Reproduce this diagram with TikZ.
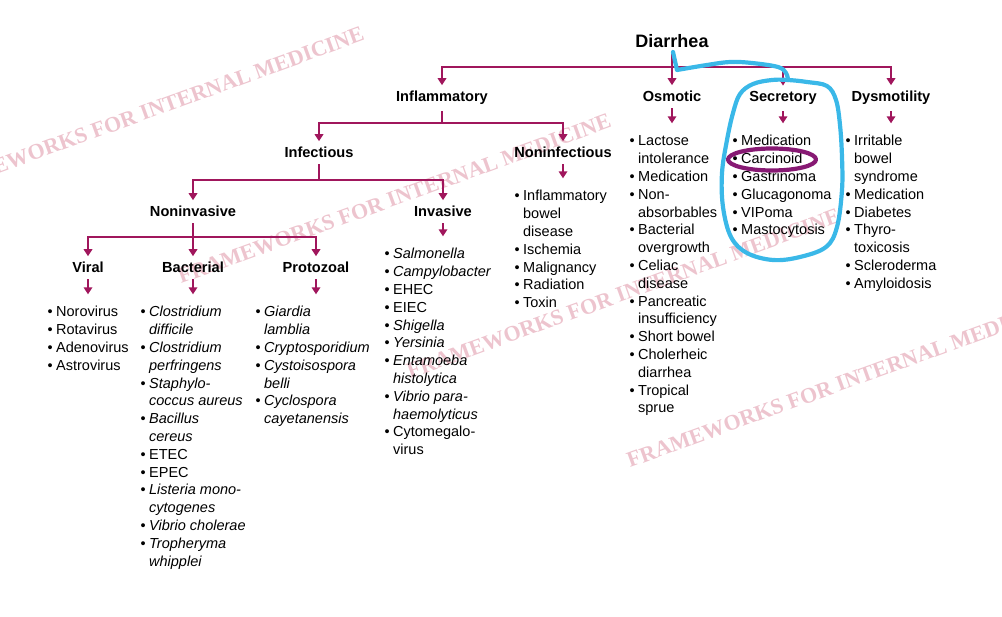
\documentclass[tikz,border=0pt]{standalone}
\usepackage{fontspec}
\setmainfont{Liberation Sans}
\newfontfamily\wmfont{Liberation Serif}
\usetikzlibrary{arrows.meta}

\definecolor{linkred}{RGB}{160,22,92}
\definecolor{markblue}{RGB}{58,184,232}
\definecolor{markpurple}{RGB}{135,25,115}
\definecolor{wmpink}{RGB}{237,196,206}

\newcommand{\listfont}{\fontsize{14.5}{17.8}\selectfont}
\newcommand{\headfont}{\fontsize{14.6}{17}\selectfont\bfseries}
\newcommand{\bl}{\textbullet}

\begin{document}
\begin{tikzpicture}[
            x=1pt, y=-1pt,
            head/.style={font=\headfont, anchor=base, inner sep=6pt},
            itemlist/.style={font=\listfont, anchor=base west, inner sep=0pt},
            arrow/.style={draw=linkred, line width=1.7pt, -{Triangle[width=8.5pt,length=7pt]}},
            drop/.style={arrow, shorten >=10pt},
            watermark/.style={font=\wmfont\fontsize{22}{22}\selectfont\bfseries, text=wmpink, anchor=base west, rotate=20, inner sep=0pt},
            penmark/.style={line width=4.2pt, line cap=round, line join=round}
        ]
            \useasboundingbox (0,0) rectangle (1002,617);

            % --- Watermarks in the background ---
            \begin{scope}
                \clip (0,0) rectangle (1002,617);
                \node[watermark] (wmA) at (-66,197) {FRAMEWORKS FOR INTERNAL MEDICINE};
                \node[watermark] (wmB) at (181,284) {FRAMEWORKS FOR INTERNAL MEDICINE};
                \node[watermark] (wmC) at (410,379) {FRAMEWORKS FOR INTERNAL MEDICINE};
                \node[watermark] (wmD) at (630,468) {FRAMEWORKS FOR INTERNAL MEDICINE};
            \end{scope}

            % --- Headings ---
            \node[head, font=\fontsize{18}{20}\selectfont\bfseries] (diar) at (672,47.7) {Diarrhea};
            \node[head] (inflam) at (442,102) {Inflammatory};
            \node[head] (osmo) at (672,102) {Osmotic};
            \node[head] (secr) at (783,102) {Secretory};
            \node[head] (dysmo) at (891,102) {Dysmotility};
            \node[head] (infect) at (319,158) {Infectious};
            \node[head] (noninf) at (563,158) {Noninfectious};
            \node[head] (noninv) at (193,217) {Noninvasive};
            \node[head] (inv) at (443,217) {Invasive};
            \node[head] (viral) at (88,273) {Viral};
            \node[head] (bact) at (193,273) {Bacterial};
            \node[head] (proto) at (316,273) {Protozoal};

            % --- Lists ---
            \node[itemlist] (virlist) at (47.5,317) {\begin{tabular}[t]{@{}l@{\hspace{3.4pt}}l@{}}
                \bl & Norovirus\\ \bl & Rotavirus\\ \bl & Adenovirus\\ \bl & Astrovirus
            \end{tabular}};
            \node[itemlist] (bactlist) at (140.5,317) {\begin{tabular}[t]{@{}l@{\hspace{3.4pt}}l@{}}
                \bl & \textit{Clostridium}\\ & \textit{difficile}\\
                \bl & \textit{Clostridium}\\ & \textit{perfringens}\\
                \bl & \textit{Staphylo-}\\ & \textit{coccus aureus}\\
                \bl & \textit{Bacillus}\\ & \textit{cereus}\\
                \bl & ETEC\\ \bl & EPEC\\
                \bl & \textit{Listeria mono-}\\ & \textit{cytogenes}\\
                \bl & \textit{Vibrio cholerae}\\
                \bl & \textit{Tropheryma}\\ & \textit{whipplei}
            \end{tabular}};
            \node[itemlist] (protolist) at (255.5,317) {\begin{tabular}[t]{@{}l@{\hspace{3.4pt}}l@{}}
                \bl & \textit{Giardia}\\ & \textit{lamblia}\\
                \bl & \textit{Cryptosporidium}\\
                \bl & \textit{Cystoisospora}\\ & \textit{belli}\\
                \bl & \textit{Cyclospora}\\ & \textit{cayetanensis}
            \end{tabular}};
            \node[itemlist] (invlist) at (384.5,259) {\begin{tabular}[t]{@{}l@{\hspace{3.4pt}}l@{}}
                \bl & \textit{Salmonella}\\ \bl & \textit{Campylobacter}\\
                \bl & EHEC\\ \bl & EIEC\\
                \bl & \textit{Shigella}\\ \bl & \textit{Yersinia}\\
                \bl & \textit{Entamoeba}\\ & \textit{histolytica}\\
                \bl & \textit{Vibrio para-}\\ & \textit{haemolyticus}\\
                \bl & Cytomegalo-\\ & virus
            \end{tabular}};
            \node[itemlist] (noninflist) at (514.5,201) {\begin{tabular}[t]{@{}l@{\hspace{3.4pt}}l@{}}
                \bl & Inflammatory\\ & bowel\\ & disease\\
                \bl & Ischemia\\ \bl & Malignancy\\ \bl & Radiation\\ \bl & Toxin
            \end{tabular}};
            \node[itemlist] (osmolist) at (629.5,146) {\begin{tabular}[t]{@{}l@{\hspace{3.4pt}}l@{}}
                \bl & Lactose\\ & intolerance\\
                \bl & Medication\\
                \bl & Non-\\ & absorbables\\
                \bl & Bacterial\\ & overgrowth\\
                \bl & Celiac\\ & disease\\
                \bl & Pancreatic\\ & insufficiency\\
                \bl & Short bowel\\
                \bl & Cholerheic\\ & diarrhea\\
                \bl & Tropical\\ & sprue
            \end{tabular}};
            \node[itemlist] (secrlist) at (732.5,146) {\begin{tabular}[t]{@{}l@{\hspace{3.4pt}}l@{}}
                \bl & Medication\\ \bl & Carcinoid\\ \bl & Gastrinoma\\
                \bl & Glucagonoma\\ \bl & VIPoma\\ \bl & Mastocytosis
            \end{tabular}};
            \node[itemlist] (dysmolist) at (845.5,146) {\begin{tabular}[t]{@{}l@{\hspace{3.4pt}}l@{}}
                \bl & Irritable\\ & bowel\\ & syndrome\\
                \bl & Medication\\ \bl & Diabetes\\
                \bl & Thyro-\\ & toxicosis\\
                \bl & Scleroderma\\ \bl & Amyloidosis
            \end{tabular}};

            % --- Branch levels ---
            \coordinate (bar0) at (0,67);
            \coordinate (bar1) at (0,123);
            \coordinate (bar2) at (0,180);
            \coordinate (bar3) at (0,237);

            % --- Connect the tree ---
            \foreach \kid in {inflam, osmo, secr, dysmo}
                \draw[arrow] (diar.south) -- (diar.south |- bar0) -| (\kid.north);
            \foreach \kid in {infect, noninf}
                \draw[arrow] (inflam.south) -- (inflam.south |- bar1) -| (\kid.north);
            \foreach \kid in {noninv, inv}
                \draw[arrow] (infect.south) -- (infect.south |- bar2) -| (\kid.north);
            \foreach \kid in {viral, bact, proto}
                \draw[arrow] (noninv.south) -- (noninv.south |- bar3) -| (\kid.north);

            % short arrows down to the lists
            \foreach \head/\items in {viral/virlist, bact/bactlist, proto/protolist, inv/invlist,
                                      noninf/noninflist, osmo/osmolist, secr/secrlist, dysmo/dysmolist}
                \draw[drop] (\head.south) -- (\head.south |- \items.north);

            % --- Hand-drawn marks ---
            \draw[penmark, markpurple] (772,159.5) ellipse[x radius=44pt, y radius=11pt];
            \draw[penmark, markblue] (673,52) -- (677,70)
                plot[smooth, tension=0.6] coordinates {(677,70) (707,65) (730,62) (752,63) (778,67) (786,73) (788,80)};
            \draw[penmark, markblue] plot[smooth cycle, tension=0.6] coordinates {(788,80) (807,82) (827,86) (836,100)
                (840,125) (842,157) (842,190) (837,227) (826,247) (800,257) (773,260) (747,253) (731,237)
                (723,207) (722,173) (727,140) (733,113) (740,94) (753,84) (772,80)};

        \end{tikzpicture}
\end{document}
